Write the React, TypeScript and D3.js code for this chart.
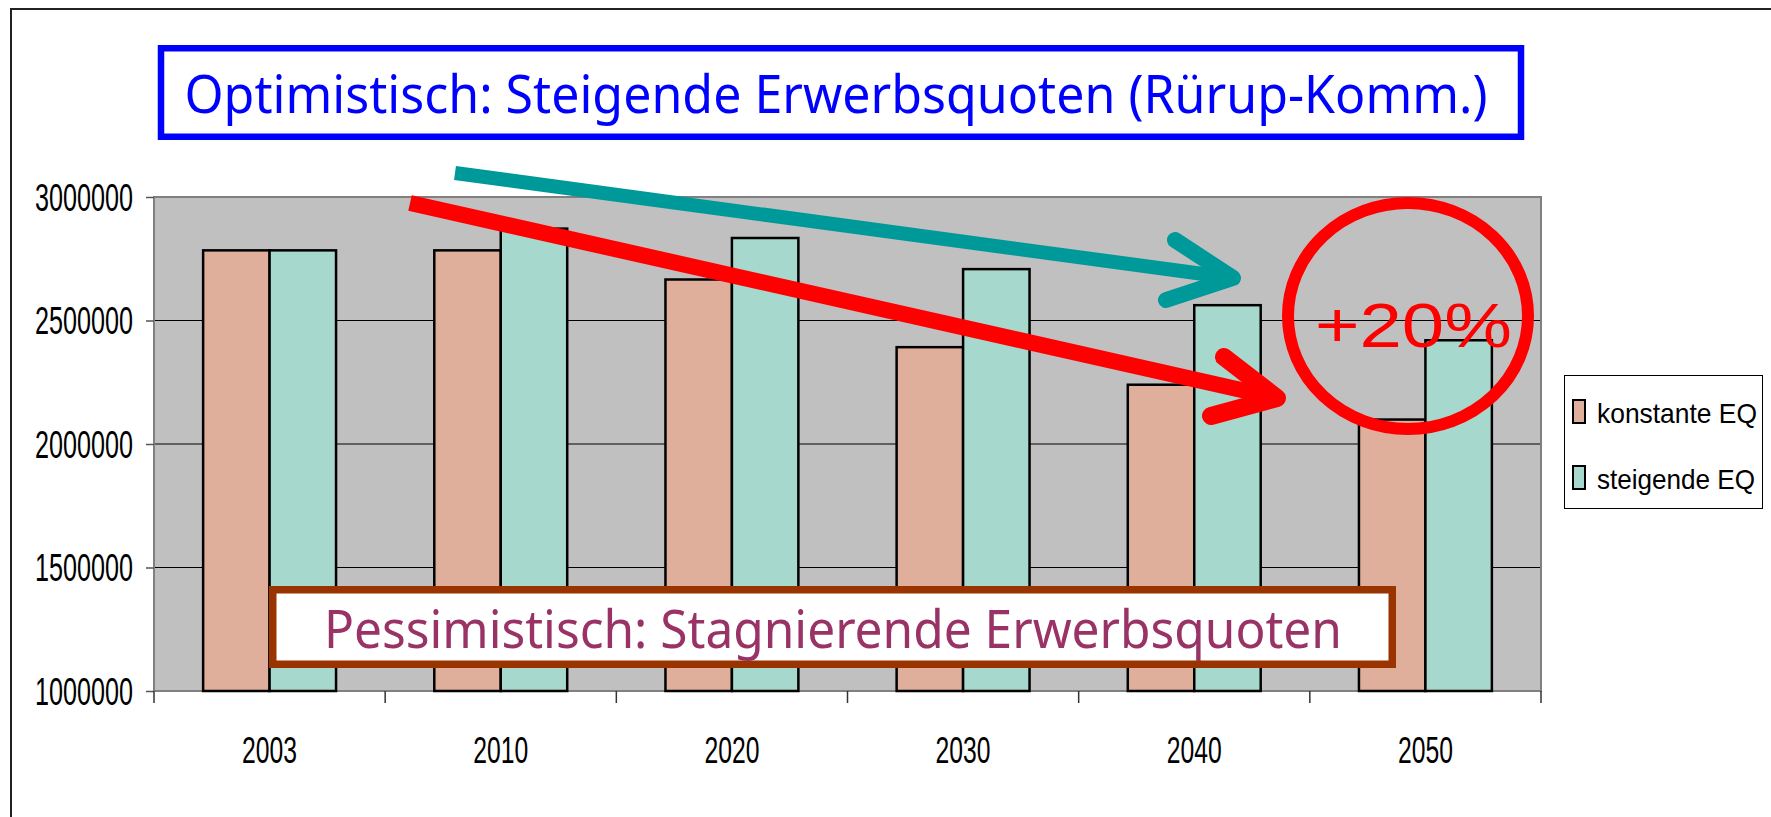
import { useEffect, useRef } from "react";
import * as d3 from "d3";

const years = ["2003", "2010", "2020", "2030", "2040", "2050"];
const konstanteEQ = [2784000, 2784000, 2666000, 2392000, 2240000, 2099000];
const steigendeEQ = [2784000, 2872000, 2834000, 2708000, 2562000, 2420000];
const seriesNames = ["konstante EQ", "steigende EQ"];
const seriesColors = ["#DFAF9B", "#A7D8CD"];
const yTicks = [1000000, 1500000, 2000000, 2500000, 3000000];

const optimistText = "Optimistisch: Steigende Erwerbsquoten (Rürup-Komm.)";
const pessimistText = "Pessimistisch: Stagnierende Erwerbsquoten";
const gainText = "+20%";

function App() {
  const svgRef = useRef<SVGSVGElement>(null);

  useEffect(() => {
    const svgElement = svgRef.current;
    if (!svgElement) return;
    document.body.style.margin = "0";
    document.body.style.overflow = "hidden";

    const plot = { left: 154, top: 197, right: 1541, bottom: 691 };
    const svg = d3.select(svgElement);

    const x = d3
      .scaleBand()
      .domain(years)
      .range([plot.left, plot.right])
      .paddingInner(0.425)
      .paddingOuter(0.2125);

    const xs = d3.scaleBand().domain(seriesNames).range([0, x.bandwidth()]);

    const y = d3
      .scaleLinear()
      .domain([1000000, 3000000])
      .range([plot.bottom, plot.top]);

    const data = years.map((year, i) => ({
      year,
      values: [
        { name: seriesNames[0], value: konstanteEQ[i], color: seriesColors[0] },
        { name: seriesNames[1], value: steigendeEQ[i], color: seriesColors[1] },
      ],
    }));

    // outer frame (only top + left visible)
    svg
      .append("path")
      .attr("d", `M11,817 L11,9 L1771,9`)
      .attr("fill", "none")
      .attr("stroke", "#222")
      .attr("stroke-width", 2);

    // plot background
    svg
      .append("rect")
      .attr("x", plot.left)
      .attr("y", plot.top)
      .attr("width", plot.right - plot.left)
      .attr("height", plot.bottom - plot.top)
      .attr("fill", "#C0C0C0");

    // gridlines
    svg
      .selectAll(".grid")
      .data(yTicks.slice(1, -1))
      .enter()
      .append("line")
      .attr("x1", plot.left)
      .attr("x2", plot.right)
      .attr("y1", (d) => y(d))
      .attr("y2", (d) => y(d))
      .attr("stroke", "#000")
      .attr("stroke-width", 1);

    // plot border
    svg
      .append("rect")
      .attr("x", plot.left)
      .attr("y", plot.top)
      .attr("width", plot.right - plot.left)
      .attr("height", plot.bottom - plot.top)
      .attr("fill", "none")
      .attr("stroke", "#808080")
      .attr("stroke-width", 2);

    // bars
    const groups = svg
      .selectAll(".group")
      .data(data)
      .enter()
      .append("g")
      .attr("transform", (d) => `translate(${x(d.year)},0)`);

    groups
      .selectAll("rect")
      .data((d) => d.values)
      .enter()
      .append("rect")
      .attr("x", (d) => xs(d.name) || 0)
      .attr("y", (d) => y(d.value))
      .attr("width", xs.bandwidth())
      .attr("height", (d) => y(1000000) - y(d.value))
      .attr("fill", (d) => d.color)
      .attr("stroke", "#000")
      .attr("stroke-width", 2.5);

    // y axis
    const yAxis = svg
      .append("g")
      .attr("transform", `translate(${plot.left},0)`)
      .call(
        d3
          .axisLeft(y)
          .tickValues(yTicks)
          .tickSize(8)
          .tickPadding(13)
          .tickFormat(d3.format("d"))
      );
    yAxis.select(".domain").remove();
    yAxis.selectAll("line").attr("stroke", "#555").attr("stroke-width", 1.5);
    yAxis
      .selectAll("text")
      .attr("dy", 13)
      .attr("font-family", "'Liberation Sans', Arial, sans-serif")
      .attr("font-size", 38)
      .attr("fill", "#000")
      .attr("textLength", 98)
      .attr("lengthAdjust", "spacingAndGlyphs");

    // x axis labels
    const xAxis = svg
      .append("g")
      .attr("transform", `translate(0,${plot.bottom})`)
      .call(d3.axisBottom(x).tickSize(0));
    xAxis.select(".domain").remove();
    xAxis
      .selectAll("text")
      .attr("y", 72)
      .attr("dy", 0)
      .attr("font-family", "'Liberation Sans', Arial, sans-serif")
      .attr("font-size", 37)
      .attr("fill", "#000")
      .attr("textLength", 55)
      .attr("lengthAdjust", "spacingAndGlyphs");

    // x ticks at category boundaries
    const boundaries = years
      .map((d) => (x(d) || 0) - (x.step() * x.paddingInner()) / 2)
      .concat([plot.right]);
    svg
      .selectAll(".xtick")
      .data(boundaries)
      .enter()
      .append("line")
      .attr("x1", (d) => d)
      .attr("x2", (d) => d)
      .attr("y1", plot.bottom)
      .attr("y2", plot.bottom + 12)
      .attr("stroke", "#333")
      .attr("stroke-width", 1.5);

    // pessimistic box
    svg
      .append("rect")
      .attr("x", 272.75)
      .attr("y", 589.75)
      .attr("width", 1119.5)
      .attr("height", 74.5)
      .attr("fill", "#fff")
      .attr("stroke", "#993300")
      .attr("stroke-width", 7.5);
    svg
      .append("text")
      .attr("x", 324)
      .attr("y", 648)
      .attr("font-family", "'Noto Sans', 'DejaVu Sans', sans-serif")
      .attr("font-size", 52)
      .attr("fill", "#993366")
      .attr("textLength", 1018)
      .attr("lengthAdjust", "spacingAndGlyphs")
      .text(pessimistText);

    // arrows
    const arrows = [
      {
        color: "#009999",
        width: 14,
        start: [455, 173],
        tip: [1233, 278],
        arms: [
          [1175, 240],
          [1166, 300],
        ],
      },
      {
        color: "#FF0000",
        width: 16,
        start: [410, 203],
        tip: [1277, 398],
        arms: [
          [1224, 357],
          [1211, 416],
        ],
      },
    ];
    arrows.forEach((a) => {
      svg
        .append("path")
        .attr("d", `M${a.start[0]},${a.start[1]} L${a.tip[0]},${a.tip[1]}`)
        .attr("stroke", a.color)
        .attr("stroke-width", a.width)
        .attr("fill", "none");
      svg
        .append("path")
        .attr(
          "d",
          `M${a.arms[0][0]},${a.arms[0][1]} L${a.tip[0]},${a.tip[1]} L${a.arms[1][0]},${a.arms[1][1]}`
        )
        .attr("stroke", a.color)
        .attr("stroke-width", a.width + 2)
        .attr("stroke-linecap", "round")
        .attr("stroke-linejoin", "round")
        .attr("fill", "none");
    });

    // +20% circle
    svg
      .append("ellipse")
      .attr("cx", 1408)
      .attr("cy", 316)
      .attr("rx", 120)
      .attr("ry", 113)
      .attr("fill", "none")
      .attr("stroke", "#FF0000")
      .attr("stroke-width", 12);
    svg
      .append("text")
      .attr("x", 1413.5)
      .attr("y", 347)
      .attr("text-anchor", "middle")
      .attr("font-family", "'Liberation Sans', Arial, sans-serif")
      .attr("font-size", 63)
      .attr("fill", "#FF0000")
      .attr("textLength", 197)
      .attr("lengthAdjust", "spacingAndGlyphs")
      .text(gainText);

    // optimistic box
    svg
      .append("rect")
      .attr("x", 161)
      .attr("y", 48.25)
      .attr("width", 1360)
      .attr("height", 88.5)
      .attr("fill", "#fff")
      .attr("stroke", "#0000FF")
      .attr("stroke-width", 6.5);
    svg
      .append("text")
      .attr("x", 184.5)
      .attr("y", 113)
      .attr("font-family", "'Noto Sans', 'DejaVu Sans', sans-serif")
      .attr("font-size", 52)
      .attr("fill", "#0000FF")
      .attr("textLength", 1303)
      .attr("lengthAdjust", "spacingAndGlyphs")
      .text(optimistText);

    // legend
    const legend = svg.append("g");
    legend
      .append("rect")
      .attr("x", 1564.5)
      .attr("y", 375.5)
      .attr("width", 198)
      .attr("height", 133)
      .attr("fill", "#fff")
      .attr("stroke", "#000")
      .attr("stroke-width", 1);
    const items = legend
      .selectAll(".item")
      .data(seriesNames)
      .enter()
      .append("g")
      .attr("transform", (_d, i) => `translate(1573,${400 + i * 66})`);
    items
      .append("rect")
      .attr("width", 12)
      .attr("height", 23)
      .attr("fill", (_d, i) => seriesColors[i])
      .attr("stroke", "#000")
      .attr("stroke-width", 2);
    items
      .append("text")
      .attr("x", 24)
      .attr("y", 23)
      .attr("font-family", "'Liberation Sans', Arial, sans-serif")
      .attr("font-size", 28)
      .attr("fill", "#000")
      .attr("textLength", (_d, i) => (i === 0 ? 160 : 158))
      .attr("lengthAdjust", "spacingAndGlyphs")
      .text((d) => d);

    return () => {
      d3.select(svgElement).selectAll("*").remove();
    };
  }, []);

  return (
    <svg
      ref={svgRef}
      width={1771}
      height={817}
      style={{ position: "absolute", left: 0, top: 0, background: "#fff" }}
    ></svg>
  );
}

export default App;
